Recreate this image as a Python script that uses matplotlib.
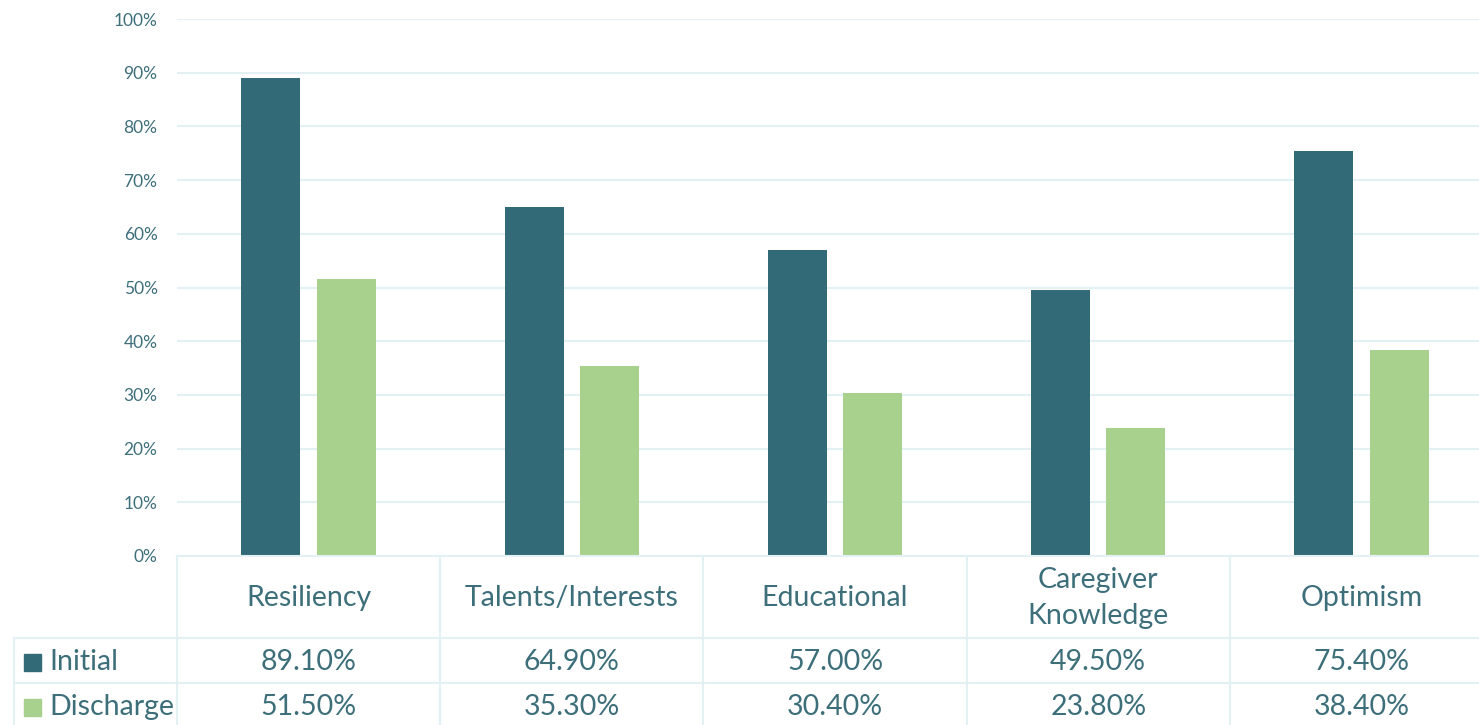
import numpy as np
import matplotlib.pyplot as plt
from matplotlib.patches import Rectangle

# Daten
kategorien = ["Resiliency", "Talents/Interests", "Educational", "Caregiver\nKnowledge", "Optimism"]
initial = [89.1, 64.9, 57.0, 49.5, 75.4]
discharge = [51.5, 35.3, 30.4, 23.8, 38.4]
serien = ["Initial", "Discharge"]
y_ticks = np.arange(0, 101, 10)

farbe_initial = "#336a77"
farbe_discharge = "#a9d18e"
text_farbe = "#3d6f7b"
gitter = "#e3f1f4"

plt.rcParams['font.family'] = ['Lato', 'DejaVu Sans']

W, H = 1479, 725
fig = plt.figure(figsize=(W / 100, H / 100), dpi=100)

# Hauptachse (ragt rechts etwas ueber das Bild hinaus, wie im Original)
x0, x1 = 177, 1493
y0, y1 = 556, 19
ax = fig.add_axes([x0 / W, (H - y0) / H, (x1 - x0) / W, (y0 - y1) / H])

x = np.arange(len(kategorien))
breite = 0.224
versatz = 0.1435
ax.bar(x - versatz, initial, breite, color=farbe_initial, zorder=3)
ax.bar(x + versatz, discharge, breite, color=farbe_discharge, zorder=3)

ax.set_xlim(-0.5, len(kategorien) - 0.5)
ax.set_ylim(0, 100)
ax.set_yticks(y_ticks)
ax.set_yticklabels([f"{v}%" for v in y_ticks], fontsize=12.5, color=text_farbe)
ax.tick_params(axis="y", length=0, pad=14)
ax.set_xticks([])
ax.grid(axis="y", color=gitter, linewidth=1.5, zorder=0)
for s in ax.spines.values():
    s.set_visible(False)

# Datentabelle unter dem Diagramm
lx = 14
tab = fig.add_axes([lx / W, 0, (x1 - lx) / W, (H - y0) / H])
links = -0.5 - (x0 - lx) / ((x1 - x0) / len(kategorien))
tab.set_xlim(links, len(kategorien) - 0.5)
tab.set_ylim(0, H - y0)
tab.axis("off")

# Zeilengrenzen in Pixeln von unten
kopf_oben = H - y0      # 169
kopf_unten = H - 638    # 87
zeile2 = H - 683        # 42
boden = -5

lw = 1.5
tab.plot([-0.5, len(kategorien) - 0.5], [kopf_oben, kopf_oben], color=gitter, lw=lw, clip_on=False)
for yy in [kopf_unten, zeile2]:
    tab.plot([links, len(kategorien) - 0.5], [yy, yy], color=gitter, lw=lw, clip_on=False)
tab.plot([links, links], [boden, kopf_unten], color=gitter, lw=lw, clip_on=False)
for g in np.arange(-0.5, len(kategorien), 1.0):
    tab.plot([g, g], [boden, kopf_oben], color=gitter, lw=lw, clip_on=False)

gr = 20.5
for i, k in enumerate(kategorien):
    tab.text(i, (kopf_oben + kopf_unten) / 2 - 1, k, ha="center", va="center",
             fontsize=gr, color=text_farbe, linespacing=1.5)
    tab.text(i, (kopf_unten + zeile2) / 2 - 2, f"{initial[i]:.2f}%", ha="center", va="center",
             fontsize=gr, color=text_farbe)
    tab.text(i, zeile2 / 2 - 3, f"{discharge[i]:.2f}%", ha="center", va="center",
             fontsize=gr, color=text_farbe)

# Legendenschluessel in der ersten Spalte
px = 1 / ((x1 - x0) / len(kategorien))  # Datenbreite eines Pixels
for name, farbe, ym in [(serien[0], farbe_initial, (kopf_unten + zeile2) / 2 - 2),
                        (serien[1], farbe_discharge, zeile2 / 2 - 3)]:
    tab.add_patch(Rectangle((links + 10 * px, ym - 8.5), 17 * px, 17, color=farbe, clip_on=False))
    tab.text(links + 35 * px, ym, name, ha="left", va="center", fontsize=gr, color=text_farbe)

fig.savefig("out.png", dpi=100)
